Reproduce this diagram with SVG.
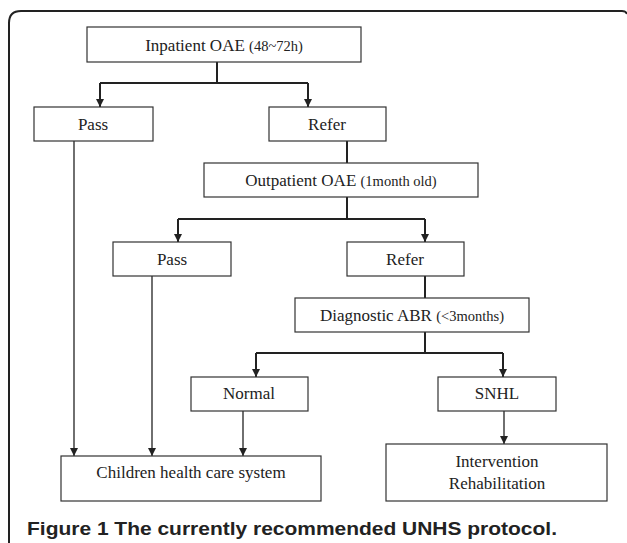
<svg xmlns="http://www.w3.org/2000/svg" width="627" height="543" viewBox="0 0 627 543">
<style>
.box{fill:#fff;stroke:#333;stroke-width:1.2}
.t{font-family:"Liberation Serif","Times New Roman",serif;font-size:17px;fill:#222;text-anchor:middle}
.s{font-size:14.5px}
.thick{fill:none;stroke:#222;stroke-width:2}
.thin{fill:none;stroke:#222;stroke-width:1.3}
.cap{font-family:"Liberation Sans",Arial,sans-serif;font-weight:bold;font-size:17.5px;fill:#222}
</style>
<defs>
<marker id="ah" markerUnits="userSpaceOnUse" markerWidth="10" markerHeight="10" viewBox="0 0 10 10" refX="5" refY="10" orient="auto-start-reverse">
<path d="M0,0 L10,0 L5,10 Z" fill="#222" transform="rotate(-90 5 5)"/>
</marker>
<marker id="a" markerUnits="userSpaceOnUse" markerWidth="8" markerHeight="10" viewBox="0 0 8 10" refX="8" refY="4" orient="auto">
<path d="M0,0 L8,4 L0,8 Z" fill="#222"/>
</marker>
</defs>
<rect width="627" height="543" fill="#fff"/>
<path d="M9,543 V23 Q9,11 21,11 H622 Q626,11 627,14" fill="none" stroke="#222" stroke-width="2"/>

<g id="connectors">
<path class="thick" d="M217,62 V83"/>
<path class="thick" d="M100,83 H308"/>
<path class="thick" d="M100,83 V107" marker-end="url(#a)"/>
<path class="thick" d="M308,83 V107" marker-end="url(#a)"/>
<path class="thick" d="M347,141 V163"/>
<path class="thick" d="M347,197 V219"/>
<path class="thick" d="M178,219 H425"/>
<path class="thick" d="M178,219 V242" marker-end="url(#a)"/>
<path class="thick" d="M425,219 V242" marker-end="url(#a)"/>
<path class="thick" d="M425,276 V298"/>
<path class="thick" d="M425,332 V353"/>
<path class="thick" d="M256,353 H503"/>
<path class="thick" d="M256,353 V377" marker-end="url(#a)"/>
<path class="thick" d="M503,353 V377" marker-end="url(#a)"/>
<path class="thin" d="M74,141 V456" marker-end="url(#a)"/>
<path class="thin" d="M152,276 V456" marker-end="url(#a)"/>
<path class="thin" d="M243,411 V456" marker-end="url(#a)"/>
<path class="thin" d="M504,411 V444" marker-end="url(#a)"/>
</g>

<g id="inpatient"><rect class="box" x="87" y="27" width="274" height="35"/><text class="t" x="224" y="51">Inpatient OAE <tspan class="s">(48~72h)</tspan></text></g>
<g id="pass1"><rect class="box" x="34" y="107" width="119" height="34"/><text class="t" x="93" y="130">Pass</text></g>
<g id="refer1"><rect class="box" x="269" y="107" width="117" height="34"/><text class="t" x="327" y="130">Refer</text></g>
<g id="outpatient"><rect class="box" x="204" y="163" width="274" height="34"/><text class="t" x="341" y="186">Outpatient OAE <tspan class="s">(1month old)</tspan></text></g>
<g id="pass2"><rect class="box" x="113" y="242" width="118" height="34"/><text class="t" x="172" y="265">Pass</text></g>
<g id="refer2"><rect class="box" x="347" y="242" width="117" height="34"/><text class="t" x="405" y="265">Refer</text></g>
<g id="diagnostic"><rect class="box" x="295" y="298" width="234" height="34"/><text class="t" x="412" y="321">Diagnostic ABR <tspan class="s">(&lt;3months)</tspan></text></g>
<g id="normal"><rect class="box" x="191" y="377" width="117" height="34"/><text class="t" x="249" y="399">Normal</text></g>
<g id="snhl"><rect class="box" x="438" y="377" width="118" height="34"/><text class="t" x="497" y="399">SNHL</text></g>
<g id="children"><rect class="box" x="61" y="456" width="260" height="45"/><text class="t" x="191" y="478">Children health care system</text></g>
<g id="intervention"><rect class="box" x="386" y="444" width="221" height="57"/><text class="t" x="497" y="467">Intervention</text><text class="t" x="497" y="489">Rehabilitation</text></g>

<text class="cap" x="27" y="535" textLength="530" lengthAdjust="spacingAndGlyphs">Figure 1 The currently recommended UNHS protocol.</text>
</svg>
